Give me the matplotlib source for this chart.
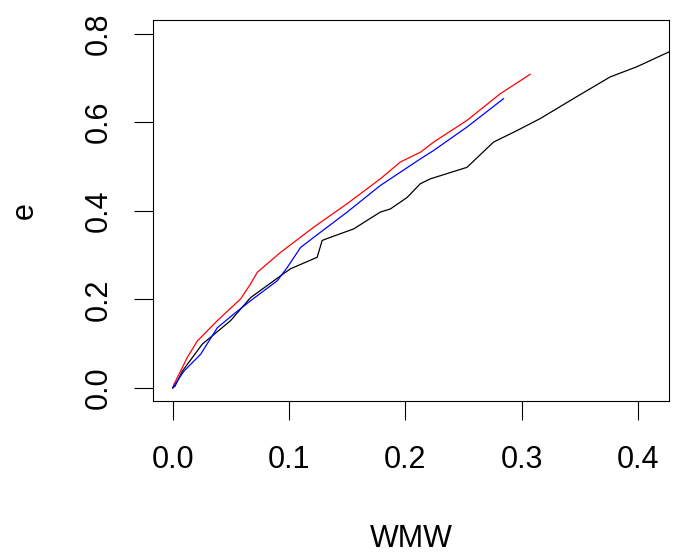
import matplotlib
matplotlib.use("Agg")
import matplotlib.pyplot as plt

plt.rcParams["font.family"] = ["Liberation Sans", "DejaVu Sans"]

# black curve
wmw_black = [0.0, 0.002, 0.0083, 0.0255, 0.0498, 0.067, 0.0953, 0.1013, 0.1242,
             0.1285, 0.1356, 0.1556, 0.167, 0.1785, 0.1871, 0.2015, 0.2129,
             0.2215, 0.253, 0.2758, 0.296, 0.3159, 0.347, 0.376, 0.399, 0.427]
e_black = [0.0, 0.004, 0.038, 0.099, 0.152, 0.204, 0.258, 0.269, 0.295,
           0.333, 0.340, 0.359, 0.378, 0.397, 0.404, 0.430, 0.461,
           0.472, 0.498, 0.555, 0.581, 0.608, 0.657, 0.702, 0.725, 0.759]

# red curve
wmw_red = [0.0, 0.0011, 0.0126, 0.0212, 0.0384, 0.0584, 0.067, 0.0727, 0.0927,
           0.1213, 0.15, 0.1785, 0.1957, 0.2129, 0.2243, 0.253, 0.2815, 0.3073]
e_red = [0.0, 0.008, 0.069, 0.106, 0.152, 0.201, 0.235, 0.261, 0.306,
         0.363, 0.416, 0.472, 0.510, 0.532, 0.555, 0.604, 0.664, 0.708]

# blue curve
wmw_blue = [0.0, 0.0097, 0.024, 0.0384, 0.0526, 0.067, 0.0899, 0.0985, 0.1099,
            0.1213, 0.15, 0.1785, 0.1957, 0.2129, 0.2243, 0.253, 0.2844]
e_blue = [0.0, 0.038, 0.076, 0.136, 0.167, 0.197, 0.242, 0.272, 0.317,
          0.340, 0.397, 0.457, 0.487, 0.517, 0.536, 0.589, 0.653]

x_ticks = [0.0, 0.1, 0.2, 0.3, 0.4]
y_ticks = [0.0, 0.2, 0.4, 0.6, 0.8]

fig = plt.figure(figsize=(6.79, 5.53), dpi=100)
ax = fig.add_axes([153 / 679, 152 / 553, 516 / 679, 381 / 553])

ax.plot(wmw_black, e_black, color="black", lw=0.9)
ax.plot(wmw_red, e_red, color="#ff0000", lw=0.9)
ax.plot(wmw_blue, e_blue, color="#0000ff", lw=0.9)

ax.set_xlim(-0.0169, 0.4266)
ax.set_ylim(-0.0294, 0.8305)
ax.set_xticks(x_ticks)
ax.set_xticklabels([f"{t:.1f}" for t in x_ticks])
ax.set_yticks(y_ticks)
ax.set_yticklabels([f"{t:.1f}" for t in y_ticks], rotation=90, va="center")

ax.tick_params(axis="both", length=13.5, width=0.8, labelsize=22)
ax.tick_params(axis="x", pad=18.5)
ax.tick_params(axis="y", pad=14.5)
for s in ax.spines.values():
    s.set_linewidth(0.8)

ax.set_xlabel("WMW", fontsize=22)
ax.set_ylabel("e", fontsize=22)
ax.xaxis.set_label_coords(0.5, -0.323)
ax.yaxis.set_label_coords(-0.22, 0.5)

fig.savefig("out.png", dpi=100)
